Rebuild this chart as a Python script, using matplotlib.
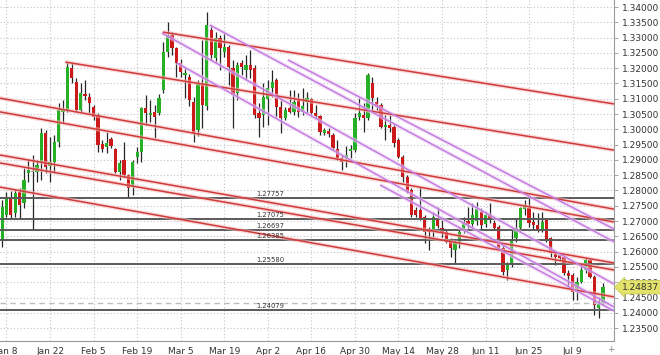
import matplotlib
matplotlib.use("Agg")
import matplotlib.pyplot as plt
import matplotlib.transforms as mtransforms
import numpy as np

# ---------------- data ----------------
first_index = -1  # candle index of the first (partially visible) bar; 0 = Jan 8

opens = [1.2638, 1.2720, 1.2779, 1.2726, 1.2795, 1.2759, 1.2857, 1.2862, 1.2860, 1.2890,
         1.2988, 1.2880, 1.2893, 1.2959, 1.3057, 1.3063, 1.3201, 1.3155, 1.3063, 1.3116,
         1.3106, 1.3073, 1.3047, 1.2952, 1.2942, 1.2968, 1.2936, 1.2860, 1.2900, 1.2851,
         1.2811, 1.2910, 1.2926, 1.3070, 1.3047, 1.3057, 1.3053, 1.3129, 1.3253, 1.3308,
         1.3266, 1.3217, 1.3178, 1.3171, 1.3089, 1.2998, 1.3145, 1.3075, 1.3325, 1.3233,
         1.3299, 1.3253, 1.3269, 1.3201, 1.3119, 1.3217, 1.3194, 1.3210, 1.3201, 1.3053,
         1.3047, 1.3100, 1.3135, 1.3161, 1.3073, 1.3037, 1.3070, 1.3057, 1.3096, 1.3057,
         1.3089, 1.3099, 1.3053, 1.3044, 1.2988, 1.2995, 1.2981, 1.2936, 1.2906, 1.2903,
         1.2929, 1.2932, 1.3040, 1.3047, 1.3037, 1.3152, 1.3089, 1.3080, 1.3008, 1.3014,
         1.3008, 1.2965, 1.2910, 1.2844, 1.2802, 1.2736, 1.2736, 1.2713, 1.2668, 1.2671,
         1.2710, 1.2677, 1.2664, 1.2638, 1.2605, 1.2632, 1.2671, 1.2700, 1.2690, 1.2700,
         1.2730, 1.2690, 1.2720, 1.2694, 1.2681, 1.2612, 1.2540, 1.2556, 1.2645, 1.2677,
         1.2740, 1.2743, 1.2697, 1.2687, 1.2671, 1.2703, 1.2645, 1.2592, 1.2589, 1.2583,
         1.2530, 1.2524, 1.2468, 1.2501, 1.2540, 1.2573, 1.2517, 1.2415, 1.2432]

highs = [1.2769, 1.2795, 1.2798, 1.2802, 1.2808, 1.2874, 1.2900, 1.2916, 1.2900, 1.3004,
         1.2998, 1.2975, 1.2981, 1.3086, 1.3096, 1.3220, 1.3217, 1.3168, 1.3152, 1.3161,
         1.3119, 1.3080, 1.3053, 1.2965, 1.2991, 1.2975, 1.2939, 1.2900, 1.2959, 1.2854,
         1.2900, 1.2942, 1.3073, 1.3112, 1.3096, 1.3080, 1.3116, 1.3286, 1.3351, 1.3318,
         1.3269, 1.3230, 1.3201, 1.3181, 1.3106, 1.3161, 1.3292, 1.3384, 1.3341, 1.3318,
         1.3308, 1.3315, 1.3276, 1.3227, 1.3220, 1.3227, 1.3243, 1.3259, 1.3210, 1.3086,
         1.3152, 1.3161, 1.3194, 1.3168, 1.3096, 1.3073, 1.3129, 1.3129, 1.3119, 1.3135,
         1.3122, 1.3102, 1.3080, 1.3047, 1.3004, 1.3004, 1.2988, 1.2965, 1.2916, 1.2945,
         1.2949, 1.3053, 1.3102, 1.3086, 1.3184, 1.3171, 1.3106, 1.3086, 1.3047, 1.3047,
         1.3021, 1.2972, 1.2916, 1.2851, 1.2808, 1.2746, 1.2811, 1.2720, 1.2681, 1.2730,
         1.2746, 1.2703, 1.2671, 1.2645, 1.2638, 1.2677, 1.2713, 1.2746, 1.2759, 1.2762,
         1.2743, 1.2730, 1.2759, 1.2703, 1.2687, 1.2622, 1.2566, 1.2677, 1.2710, 1.2746,
         1.2769, 1.2785, 1.2730, 1.2726, 1.2730, 1.2710, 1.2648, 1.2599, 1.2596, 1.2589,
         1.2540, 1.2530, 1.2517, 1.2556, 1.2579, 1.2579, 1.2524, 1.2452, 1.2497]

lows = [1.2615, 1.2713, 1.2710, 1.2713, 1.2710, 1.2743, 1.2828, 1.2671, 1.2828, 1.2834,
        1.2857, 1.2828, 1.2857, 1.2942, 1.3021, 1.3057, 1.3152, 1.3057, 1.3057, 1.3096,
        1.3053, 1.3030, 1.2926, 1.2926, 1.2923, 1.2939, 1.2857, 1.2834, 1.2844, 1.2775,
        1.2785, 1.2890, 1.2893, 1.3014, 1.3024, 1.2972, 1.3047, 1.3119, 1.3237, 1.3243,
        1.3171, 1.3171, 1.3102, 1.3076, 1.2959, 1.2978, 1.3004, 1.3063, 1.3227, 1.3220,
        1.3194, 1.3237, 1.3145, 1.3004, 1.3096, 1.3178, 1.3161, 1.3168, 1.3037, 1.2975,
        1.3008, 1.3014, 1.3106, 1.3040, 1.2988, 1.3030, 1.3053, 1.3047, 1.3040, 1.3047,
        1.3053, 1.3047, 1.3037, 1.2981, 1.2981, 1.2975, 1.2932, 1.2900, 1.2867, 1.2877,
        1.2906, 1.2926, 1.3030, 1.2991, 1.3030, 1.3057, 1.3063, 1.3004, 1.2965, 1.2991,
        1.2942, 1.2906, 1.2828, 1.2792, 1.2713, 1.2713, 1.2703, 1.2628, 1.2605, 1.2648,
        1.2677, 1.2648, 1.2628, 1.2583, 1.2563, 1.2612, 1.2661, 1.2677, 1.2677, 1.2687,
        1.2671, 1.2681, 1.2694, 1.2671, 1.2605, 1.2524, 1.2507, 1.2550, 1.2632, 1.2664,
        1.2720, 1.2681, 1.2671, 1.2664, 1.2664, 1.2632, 1.2583, 1.2556, 1.2573, 1.2524,
        1.2484, 1.2442, 1.2442, 1.2497, 1.2530, 1.2514, 1.2393, 1.2383, 1.2426]

closes = [1.2746, 1.2779, 1.2720, 1.2792, 1.2753, 1.2834, 1.2867, 1.2863, 1.2883, 1.2988,
          1.2877, 1.2893, 1.2959, 1.3063, 1.3063, 1.3204, 1.3168, 1.3063, 1.3119, 1.3109,
          1.3086, 1.3040, 1.2949, 1.2936, 1.2955, 1.2945, 1.2860, 1.2890, 1.2851, 1.2808,
          1.2893, 1.2926, 1.3070, 1.3053, 1.3053, 1.3040, 1.3102, 1.3253, 1.3305, 1.3266,
          1.3217, 1.3187, 1.3184, 1.3096, 1.2988, 1.3148, 1.3080, 1.3341, 1.3243, 1.3299,
          1.3266, 1.3269, 1.3204, 1.3112, 1.3210, 1.3204, 1.3210, 1.3194, 1.3047, 1.3037,
          1.3106, 1.3135, 1.3155, 1.3073, 1.3037, 1.3063, 1.3057, 1.3089, 1.3057, 1.3076,
          1.3102, 1.3053, 1.3044, 1.2991, 1.2998, 1.2985, 1.2939, 1.2906, 1.2893, 1.2916,
          1.2936, 1.3037, 1.3053, 1.3037, 1.3178, 1.3102, 1.3073, 1.3008, 1.3014, 1.3004,
          1.2955, 1.2910, 1.2844, 1.2795, 1.2720, 1.2720, 1.2710, 1.2664, 1.2664, 1.2713,
          1.2684, 1.2661, 1.2632, 1.2612, 1.2628, 1.2664, 1.2694, 1.2690, 1.2720, 1.2739,
          1.2687, 1.2720, 1.2703, 1.2677, 1.2612, 1.2533, 1.2556, 1.2641, 1.2677, 1.2743,
          1.2748, 1.2694, 1.2687, 1.2671, 1.2697, 1.2638, 1.2596, 1.2583, 1.2579, 1.2530,
          1.2520, 1.2468, 1.2501, 1.2540, 1.2573, 1.2517, 1.2426, 1.2432, 1.24837]

tick_positions = [0, 10, 20, 30, 40, 50, 60, 70, 80, 90, 100, 110, 120, 130]
tick_labels = ["Jan 8", "Jan 22", "Feb 5", "Feb 19", "Mar 5", "Mar 19", "Apr 2",
               "Apr 16", "Apr 30", "May 14", "May 28", "Jun 11", "Jun 25", "Jul 9"]

levels = [1.27757, 1.27075, 1.26697, 1.26385, 1.25580, 1.24079]
level_label_index = 57.3
bar_open_level = 1.2432
last_price = 1.24837

# trend lines: (start bar, start price, end bar, end price)
red_lines = [
    (35.9, 1.3318, 139.5, 1.3083),
    (13.5, 1.3220, 139.5, 1.2932),
    (-1.5, 1.3102, 139.5, 1.2739),
    (-1.5, 1.3057, 139.5, 1.2697),
    (-1.5, 1.2916, 139.5, 1.2563),
    (-1.5, 1.2890, 139.5, 1.2540),
    (-1.5, 1.2811, 139.5, 1.2452),
]
purple_lines = [
    (46.7, 1.3341, 139.5, 1.2632),
    (64.6, 1.3227, 139.5, 1.2674),
    (35.7, 1.3315, 139.5, 1.2494),
    (39.1, 1.3217, 139.5, 1.2419),
    (85.8, 1.2818, 139.5, 1.2406),
]

# ---------------- figure ----------------
fig = plt.figure(figsize=(6.6, 3.55), dpi=100)
fig.patch.set_facecolor("white")
ax = fig.add_axes([0, 14 / 355, 614 / 660, 341 / 355])
ax.set_facecolor("white")
ax.set_xlim(-1.49, 139.5)
ax.set_ylim(1.23078, 1.34229)

# grid
yt = np.round(np.arange(1.235, 1.34001, 0.005), 3)
ax.set_yticks(yt)
ax.set_yticklabels([f"{v:.5f}" for v in yt])
ax.set_xticks(tick_positions)
ax.set_xticklabels(tick_labels)
ax.grid(True, color="#c4c4c4", linestyle=(0, (1, 2)), linewidth=0.8, zorder=0)
ax.set_axisbelow(True)

ax.yaxis.tick_right()
ax.tick_params(axis="y", length=3, width=0.6, color="#999999", pad=2.5,
               labelsize=6.5, labelcolor="#333333")
ax.tick_params(axis="x", length=0, pad=4, labelsize=6.5, labelcolor="#333333")
for s in ["top", "left"]:
    ax.spines[s].set_visible(False)
for s in ["right", "bottom"]:
    ax.spines[s].set_color("#9a9a9a")
    ax.spines[s].set_linewidth(0.8)

# candles
xs = np.arange(first_index, first_index + len(opens))
o = np.array(opens); h = np.array(highs); l = np.array(lows); c = np.array(closes)
ax.vlines(xs, l, h, color="#262626", linewidth=0.9, zorder=2)
diff = c - o
colors = np.where(np.abs(diff) < 0.00015, "#9a9a9a",
                  np.where(diff > 0, "#25b025", "#cc1a1a"))
heights = np.maximum(np.abs(diff), 0.00018)
bottoms = np.minimum(o, c)
ax.bar(xs, heights, bottom=bottoms, width=0.75, color=colors, linewidth=0, zorder=3)

# support/resistance levels
for lvl in levels:
    ax.axhline(lvl, color="#5a5a5a", linewidth=1.4, zorder=4)
    ax.annotate(f"{lvl:.5f}", xy=(level_label_index, lvl), xytext=(0, 0.8),
                textcoords="offset points", fontsize=4.9, color="#333333",
                ha="left", va="bottom", zorder=7)
ax.axhline(bar_open_level, color="#bdbdbd", linewidth=1.0, linestyle=(0, (4, 3)), zorder=4)

# trend lines
def draw_lines(lines, color, halo):
    for k0, p0, k1, p1 in lines:
        ax.plot([k0, k1], [p0, p1], color=halo, linewidth=3.0, alpha=0.55,
                solid_capstyle="butt", zorder=5)
        ax.plot([k0, k1], [p0, p1], color=color, linewidth=1.1,
                solid_capstyle="butt", zorder=6)

draw_lines(red_lines, "#d03a3a", "#f6bcbc")
draw_lines(purple_lines, "#c67ce0", "#ecd3f6")

# last price tag
trans = mtransforms.blended_transform_factory(ax.transAxes, ax.transData)
ax.text(1.013, last_price, f"{last_price:.5f}", transform=trans, fontsize=6.5,
        color="#333333", ha="left", va="center", clip_on=False, zorder=10,
        bbox=dict(boxstyle="larrow,pad=0.25", fc="#e2e26a", ec="#caca5c", lw=0.6))

fig.text(611 / 660, 1 - 350 / 355, "+", fontsize=6.5, color="#888888",
         ha="center", va="center")

fig.savefig("out.png", dpi=100, facecolor="white")
